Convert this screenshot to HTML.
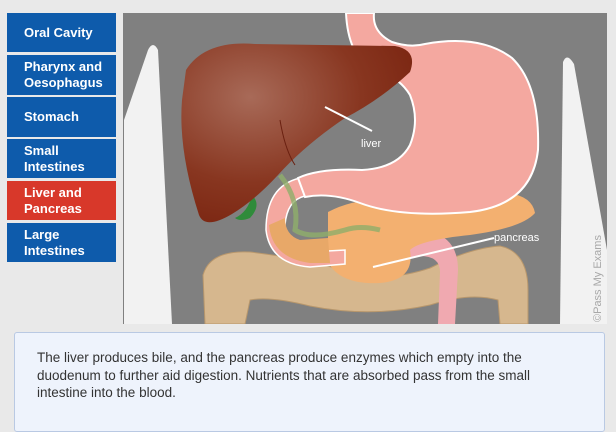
<!DOCTYPE html>
<html><head><meta charset="utf-8"><style>
body{margin:0;width:616px;height:421px;background:#e9e9e9;font-family:"Liberation Sans",sans-serif;position:relative;overflow:hidden}
.btn{position:absolute;left:7px;width:109px;background:#0e5bab;color:#fff;font-weight:bold;font-size:13px;line-height:16px;box-sizing:border-box;padding-left:17px;display:flex;align-items:center}
.red{background:#d8382a}
.box{position:absolute;left:14px;top:332px;width:591px;height:100px;background:#eef3fc;border:1px solid #b9c9e3;border-radius:3px;box-sizing:border-box}
.txt{position:absolute;left:37px;top:349px;font-size:13.5px;line-height:17.5px;color:#333;white-space:nowrap}
</style></head><body>
<div class="btn" style="top:13px;height:39px">Oral Cavity</div>
<div class="btn" style="top:55px;height:40px">Pharynx and<br>Oesophagus</div>
<div class="btn" style="top:97px;height:40px">Stomach</div>
<div class="btn" style="top:139px;height:39px">Small<br>Intestines</div>
<div class="btn red" style="top:181px;height:39px">Liver and<br>Pancreas</div>
<div class="btn" style="top:223px;height:39px">Large<br>Intestines</div>
<svg style="position:absolute;left:0;top:0" width="616" height="421">
<defs>
<radialGradient id="lv" cx="0.3" cy="0.3" r="0.8"><stop offset="0" stop-color="#a86a58"/><stop offset="0.6" stop-color="#883620"/><stop offset="1" stop-color="#7a2410"/></radialGradient>
<clipPath id="cp"><rect x="123" y="13" width="484" height="311"/></clipPath>
</defs>
<rect x="123" y="13" width="484" height="311" fill="#808080"/>
<g clip-path="url(#cp)">
<path d="M124,324 L124,120 L148,50 Q153,40 158,50 L172,324 Z" fill="#f2f2f2"/>
<path d="M560,324 L563,62 Q567,52 574,64 L607,250 L607,324 Z" fill="#f2f2f2"/>
<!-- large intestine -->
<path d="M205,324 L203,275 Q210,250 250,252 Q300,258 335,268 Q380,285 430,268 Q470,248 500,246 Q528,252 528,290 L528,324 L500,324 L498,300 Q470,292 430,305 Q370,318 310,306 Q270,296 250,300 L245,324 Z" fill="#d6b78e" stroke="#b8976c" stroke-width="1"/>
<!-- pink tube -->
<path d="M350,238 Q400,228 430,232 Q458,238 458,270 L455,324 L438,324 L440,272 Q440,256 420,256 L355,265 Z" fill="#f0a9b0"/>
<!-- pancreas -->
<path d="M328,212 Q360,195 400,202 Q450,198 500,192 Q532,194 535,213 Q522,228 470,235 Q420,240 410,250 Q415,280 380,283 Q340,285 328,262 Z" fill="#f3b070"/>
<!-- duodenum -->
<path d="M300,178 Q266,186 266,230 Q270,264 310,267 L345,264 L345,250 L310,252 Q285,248 285,225 Q287,200 305,196 Z" fill="#f4a8a0" stroke="#fff" stroke-width="1.5"/>
<path d="M269,225 Q272,258 310,263 L330,263 L328,238 L300,240 Q285,235 285,218 Z" fill="#e8a868"/>
<!-- stomach + esophagus -->
<path d="M346,13 L374,13 Q372,32 392,42 Q410,48 425,44 Q480,34 512,58 Q540,85 538,150 Q532,205 470,212 Q400,218 360,203 Q330,192 305,197 L298,178 Q320,168 362,170 Q398,168 410,145 Q420,120 410,95 Q398,75 372,70 Q348,55 346,13 Z" fill="#f4a8a0" stroke="#fff" stroke-width="2"/>
<!-- bile duct -->
<path d="M280,175 Q300,200 295,230 Q310,240 345,230 Q360,225 380,230" fill="none" stroke="#8fae6a" stroke-width="5" opacity="0.8"/>
<!-- liver -->
<path d="M235,218 Q248,212 252,195 Q262,205 250,218 Q240,222 235,218 Z" fill="#2f8b3a"/>
<path d="M186,70 Q205,40 255,44 L395,46 Q418,50 410,72 Q380,100 345,118 Q305,145 278,175 Q255,200 232,214 Q205,230 199,215 Q178,150 182,100 Z" fill="url(#lv)"/>
<path d="M280,120 Q285,150 295,165" fill="none" stroke="#6a2010" stroke-width="1"/>
<!-- labels -->
<line x1="325" y1="107" x2="372" y2="131" stroke="#fff" stroke-width="2"/>
<text x="361" y="147" fill="#fff" font-size="11" font-family="Liberation Sans,sans-serif">liver</text>
<line x1="373" y1="267" x2="494" y2="238" stroke="#fff" stroke-width="2"/>
<text x="494" y="241" fill="#fff" font-size="11" font-family="Liberation Sans,sans-serif">pancreas</text>
<text transform="translate(601,322) rotate(-90)" fill="#a8a8a8" font-size="11" font-family="Liberation Sans,sans-serif">©Pass My Exams</text>
</g>
</svg>
<div class="box"></div>
<div class="txt">The liver produces bile, and the pancreas produce enzymes which empty into the<br>duodenum to further aid digestion. Nutrients that are absorbed pass from the small<br>intestine into the blood.</div>
</body></html>
